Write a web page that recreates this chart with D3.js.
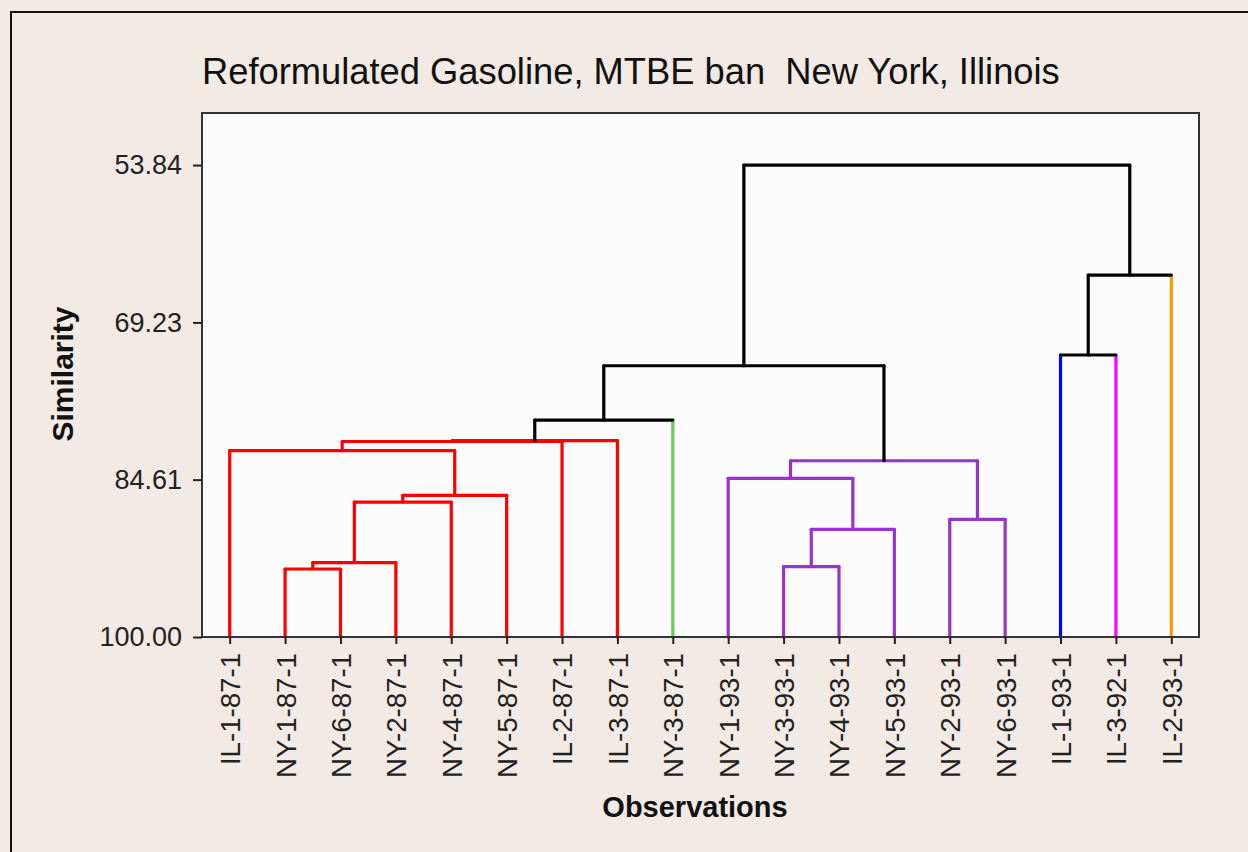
<!DOCTYPE html>
<html>
<head>
<meta charset="utf-8">
<script src="https://cdn.jsdelivr.net/npm/d3@7"></script>
<style>
  html, body { margin: 0; padding: 0; background: #F2EAE4; }
  svg { display: block; }
</style>
</head>
<body>
<div id="chart"></div>
<script>
// leaves, left to right
var leaves = ['IL-1-87-1', 'NY-1-87-1', 'NY-6-87-1', 'NY-2-87-1', 'NY-4-87-1', 'NY-5-87-1',
              'IL-2-87-1', 'IL-3-87-1', 'NY-3-87-1', 'NY-1-93-1', 'NY-3-93-1', 'NY-4-93-1',
              'NY-5-93-1', 'NY-2-93-1', 'NY-6-93-1', 'IL-1-93-1', 'IL-3-92-1', 'IL-2-93-1'];
var leafColors = ['#FF0000', '#FF0000', '#FF0000', '#FF0000', '#FF0000', '#FF0000',
                  '#FF0000', '#FF0000', '#66CC55', '#9933CC', '#9933CC', '#9933CC',
                  '#9933CC', '#9933CC', '#9933CC', '#0000FF', '#FF00FF', '#FF9900'];

// merges: child ids (< 18 leaf, else 18 + merge index), similarity level, colour
var mergeLeft  = [1, 18, 19, 20, 0, 22, 23, 24, 10, 26, 9, 13, 28, 25, 15, 32, 31];
var mergeRight = [2, 3, 4, 5, 21, 6, 7, 8, 11, 12, 27, 14, 29, 30, 16, 17, 33];
var mergeSim   = [93.35, 92.73, 86.80, 86.14, 81.78, 80.88, 80.80, 78.78,
                  93.12, 89.47, 84.48, 88.49, 82.76, 73.47, 72.42, 64.60, 53.84];
var mergeColor = ['#FF0000', '#FF0000', '#FF0000', '#FF0000', '#FF0000', '#FF0000', '#FF0000', '#000000',
                  '#9933CC', '#9933CC', '#9933CC', '#9933CC', '#9933CC', '#000000', '#000000', '#000000', '#000000'];

var yTicks = [100.00, 84.61, 69.23, 53.84];

var title = 'Reformulated Gasoline, MTBE ban  New York, Illinois';

var width = 1248, height = 852;
var plot = { left: 202, top: 113, right: 1199, bottom: 637 };
var font = 'Liberation Sans, Arial, sans-serif';

var svg = d3.select('#chart').append('svg')
    .attr('width', width)
    .attr('height', height);

// outer frame
svg.append('rect')
    .attr('x', 11).attr('y', 12)
    .attr('width', 1300).attr('height', 900)
    .style('fill', '#F2EAE4')
    .style('stroke', '#111')
    .style('stroke-width', 2);

// plot area
svg.append('rect')
    .attr('x', plot.left).attr('y', plot.top)
    .attr('width', plot.right - plot.left)
    .attr('height', plot.bottom - plot.top)
    .style('fill', '#FCFCFC');

var x = d3.scalePoint()
    .domain(leaves)
    .range([plot.left, plot.right])
    .padding(0.5);

var y = d3.scaleLinear()
    .domain([100, 48.75])
    .range([plot.bottom, plot.top]);

var n = leaves.length;
function nodeX(id) {
    if (id < n) return x(leaves[id]);
    var k = id - n;
    return (nodeX(mergeLeft[k]) + nodeX(mergeRight[k])) / 2;
}
function nodeSim(id) {
    return id < n ? 100 : mergeSim[id - n];
}

var g = svg.append('g').attr('class', 'tree');

mergeSim.forEach(function(s, k) {
    [mergeLeft[k], mergeRight[k]].forEach(function(c) {
        g.append('line')
            .attr('x1', nodeX(c)).attr('x2', nodeX(c))
            .attr('y1', y(nodeSim(c))).attr('y2', y(s))
            .style('stroke', c < n ? leafColors[c] : mergeColor[k]);
    });
    g.append('line')
        .attr('x1', nodeX(mergeLeft[k])).attr('x2', nodeX(mergeRight[k]))
        .attr('y1', y(s)).attr('y2', y(s))
        .style('stroke', mergeColor[k]);
});

g.selectAll('line')
    .style('stroke-width', 3.2)
    .style('stroke-linecap', 'round');

// plot border
svg.append('rect')
    .attr('x', plot.left).attr('y', plot.top)
    .attr('width', plot.right - plot.left)
    .attr('height', plot.bottom - plot.top)
    .style('fill', 'none')
    .style('stroke', '#333')
    .style('stroke-width', 2);

// y axis
var yAxis = svg.append('g')
    .attr('transform', 'translate(' + plot.left + ',0)')
    .call(d3.axisLeft(y).tickValues(yTicks).tickFormat(d3.format('.2f')).tickSize(9).tickPadding(11));
yAxis.select('.domain').remove();
yAxis.selectAll('line').style('stroke', '#222').style('stroke-width', 2);
yAxis.selectAll('text')
    .style('font-family', font)
    .style('font-size', '27px')
    .style('fill', '#222');

// x axis
var xAxis = svg.append('g')
    .attr('transform', 'translate(0,' + plot.bottom + ')')
    .call(d3.axisBottom(x).tickSize(7).tickPadding(0));
xAxis.select('.domain').remove();
xAxis.selectAll('line').style('stroke', '#222').style('stroke-width', 2);
var xLabels = xAxis.selectAll('text')
    .attr('transform', 'rotate(-90)')
    .attr('x', -16)
    .attr('y', 0)
    .attr('dy', '0.36em')
    .style('text-anchor', 'end')
    .style('font-family', font)
    .style('font-size', '20px')
    .style('fill', '#222');
// size labels so the longest is about 125px
var longest = d3.max(xLabels.nodes(), function(el) { return el.getComputedTextLength(); });
xLabels.style('font-size', (20 * 125 / longest) + 'px');

// title
var t = svg.append('text')
    .attr('x', 202).attr('y', 84)
    .style('font-family', font)
    .style('font-size', '20px')
    .style('fill', '#111')
    .attr('xml:space', 'preserve')
    .text(title);
t.style('font-size', (20 * 858 / t.node().getComputedTextLength()) + 'px');

// axis titles
svg.append('text')
    .attr('transform', 'translate(73,374) rotate(-90)')
    .style('text-anchor', 'middle')
    .style('font-family', font)
    .style('font-size', '30px')
    .style('font-weight', 'bold')
    .style('fill', '#111')
    .text('Similarity');

svg.append('text')
    .attr('x', 695).attr('y', 817)
    .style('text-anchor', 'middle')
    .style('font-family', font)
    .style('font-size', '29px')
    .style('font-weight', 'bold')
    .style('fill', '#111')
    .text('Observations');
</script>
</body>
</html>
